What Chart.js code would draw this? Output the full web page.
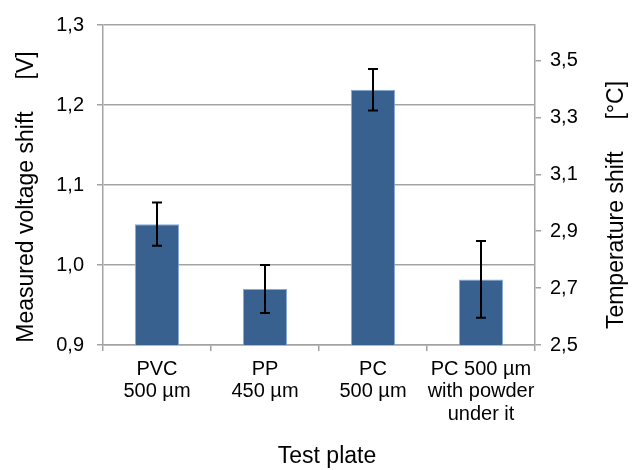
<!DOCTYPE html>
<html>
<head>
<meta charset="utf-8">
<script src="https://cdn.jsdelivr.net/npm/chart.js@4.4.1/dist/chart.umd.min.js"></script>
<style>
  html, body { margin: 0; padding: 0; background: #ffffff; }
  #wrap { width: 639px; height: 470px; position: relative; }
</style>
</head>
<body>
<div id="wrap"><canvas id="c" width="639" height="470"></canvas></div>
<script>
// ---- data ----
const categories = [["PVC", "500 µm"], ["PP", "450 µm"], ["PC", "500 µm"], ["PC 500 µm", "with powder", "under it"]];
const voltageShift = [1.051, 0.970, 1.219, 0.982];
const voltageError = [0.027, 0.030, 0.026, 0.048];
const leftTicks = [0.9, 1.0, 1.1, 1.2, 1.3];
const leftTickLabels = ["0,9", "1,0", "1,1", "1,2", "1,3"];
const rightTicks = [2.5, 2.7, 2.9, 3.1, 3.3, 3.5];
const rightTickLabels = ["2,5", "2,7", "2,9", "3,1", "3,3", "3,5"];
const leftRange = [0.9, 1.3];
const rightRange = [2.5, 3.625];
const leftTitle = "Measured voltage shift     [V]";
const rightTitle = "Temperature shift     [°C]";
const xTitle = "Test plate";

const FONT = "'Liberation Sans', Arial, sans-serif";
const GRID = "#a3a3a3";

const errorBars = {
  id: "errorBars",
  afterDatasetsDraw(chart) {
    const ctx = chart.ctx;
    const meta = chart.getDatasetMeta(0);
    const y = chart.scales.y;
    ctx.save();
    ctx.strokeStyle = "#000000";
    ctx.lineWidth = 2;
    meta.data.forEach((bar, i) => {
      const x = Math.round(bar.x);
      const top = y.getPixelForValue(voltageShift[i] + voltageError[i]);
      const bot = y.getPixelForValue(voltageShift[i] - voltageError[i]);
      ctx.beginPath();
      ctx.moveTo(x, top); ctx.lineTo(x, bot);
      ctx.moveTo(x - 5, top); ctx.lineTo(x + 5, top);
      ctx.moveTo(x - 5, bot); ctx.lineTo(x + 5, bot);
      ctx.stroke();
    });
    ctx.restore();
  }
};

const axisTitles = {
  id: "axisTitles",
  afterDraw(chart) {
    const ctx = chart.ctx;
    const a = chart.chartArea;
    ctx.save();
    ctx.fillStyle = "#000000";
    ctx.font = "23px " + FONT;
    ctx.textAlign = "center";
    ctx.textBaseline = "alphabetic";
    ctx.save();
    ctx.translate(33, (a.top + a.bottom) / 2 + 12);
    ctx.rotate(-Math.PI / 2);
    ctx.fillText(leftTitle, 0, 0);
    ctx.restore();
    ctx.save();
    ctx.translate(623, (a.top + a.bottom) / 2 + 20);
    ctx.rotate(-Math.PI / 2);
    ctx.fillText(rightTitle, 0, 0);
    ctx.restore();
    ctx.fillText(xTitle, (a.left + a.right) / 2 + 8, 463);
    ctx.restore();
  }
};

new Chart(document.getElementById("c"), {
  type: "bar",
  data: {
    labels: categories,
    datasets: [{
      data: voltageShift,
      backgroundColor: "#386190",
      borderColor: "#86abda",
      borderWidth: 1,
      barPercentage: 0.41,
      categoryPercentage: 1.0,
      yAxisID: "y"
    }]
  },
  options: {
    responsive: false,
    animation: false,
    layout: { padding: { top: 22, left: 0, right: 0, bottom: 0 } },
    plugins: { legend: { display: false }, tooltip: { enabled: false }, title: { display: false } },
    scales: {
      x: {
        type: "category",
        offset: true,
        grid: { offset: true, drawOnChartArea: false, drawTicks: true, tickLength: 6, color: GRID, lineWidth: 1.5 },
        border: { display: true, color: GRID, width: 1.5 },
        ticks: { color: "#000000", font: { family: FONT, size: 20, lineHeight: 1.12 }, padding: 7, maxRotation: 0, autoSkip: false },
        title: { display: false },
        afterFit(s) { s.height = 125; }
      },
      y: {
        position: "left",
        min: leftRange[0], max: leftRange[1],
        afterBuildTicks(s) { s.ticks = leftTicks.map(v => ({ value: v })); },
        grid: { color: GRID, lineWidth: 1.5, tickLength: 6, drawTicks: true },
        border: { display: true, color: GRID, width: 1.5 },
        ticks: {
          color: "#000000", font: { family: FONT, size: 20 }, padding: 13,
          callback(v) { const i = leftTicks.findIndex(t => Math.abs(t - v) < 1e-9); return i >= 0 ? leftTickLabels[i] : ""; }
        },
        afterFit(s) { s.width = 103; }
      },
      y2: {
        position: "right",
        min: rightRange[0], max: rightRange[1],
        afterBuildTicks(s) { s.ticks = rightTicks.map(v => ({ value: v })); },
        grid: { drawOnChartArea: false, color: GRID, lineWidth: 1.5, tickLength: 6, drawTicks: true },
        border: { display: true, color: GRID, width: 1.5 },
        ticks: {
          color: "#000000", font: { family: FONT, size: 20 }, padding: 9,
          callback(v) { const i = rightTicks.findIndex(t => Math.abs(t - v) < 1e-9); return i >= 0 ? rightTickLabels[i] : ""; }
        },
        afterFit(s) { s.width = 104; }
      }
    }
  },
  plugins: [errorBars, axisTitles]
});
</script>
</body>
</html>
